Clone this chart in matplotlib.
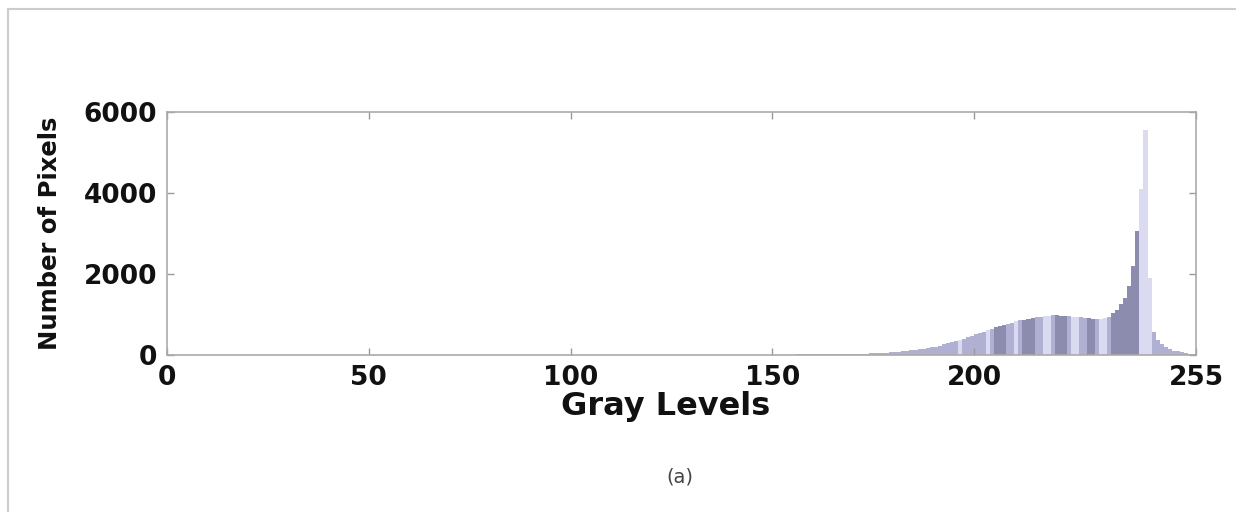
import numpy as np
import matplotlib
matplotlib.use("Agg")
import matplotlib.pyplot as plt
from matplotlib.lines import Line2D

# histogram counts per gray level 0..255
gray_levels = np.arange(256)
counts = [
    # 0-49
    12, 10, 10, 8, 8, 8, 6, 6, 6, 5, 5, 5, 5, 5, 5, 5, 5, 5, 5, 5,
    4, 4, 4, 4, 4, 4, 4, 4, 4, 4, 3, 3, 3, 3, 3, 3, 3, 3, 3, 3,
    3, 3, 3, 3, 3, 3, 3, 3, 3, 3,
    # 50-99
    3, 3, 3, 3, 3, 3, 3, 3, 3, 3, 3, 3, 3, 3, 3, 3, 3, 3, 3, 3,
    3, 3, 3, 3, 3, 3, 3, 3, 3, 3, 3, 3, 3, 3, 3, 3, 3, 3, 3, 3,
    3, 3, 3, 3, 3, 3, 3, 3, 3, 3,
    # 100-149
    3, 3, 3, 3, 3, 3, 3, 3, 3, 3, 4, 4, 4, 4, 4, 4, 4, 4, 4, 4,
    5, 5, 5, 5, 5, 5, 5, 5, 5, 5, 6, 6, 6, 6, 6, 6, 6, 6, 6, 6,
    8, 8, 8, 8, 8, 8, 8, 8, 8, 8,
    # 150-199
    10, 10, 10, 12, 12, 12, 14, 14, 15, 15, 16, 16, 18, 18, 20, 20, 22, 22, 25, 25,
    28, 30, 32, 35, 38, 42, 48, 55, 62, 70, 78, 85, 95, 105, 115, 130, 145, 160, 175, 190,
    205, 230, 260, 285, 315, 345, 375, 405, 435, 470,
    # 200-249
    510, 545, 580, 615, 650, 680, 710, 740, 770, 800, 830, 855, 875, 895, 915, 930, 945, 960,
    975, 990, 985, 975, 965, 955, 950, 940, 930, 920, 905, 890, 880, 890, 910, 945,
    1030, 1110, 1250, 1400, 1700, 2200, 3050, 4100, 5560, 1900, 560, 380, 260, 190, 140, 110,
    # 250-255
    90, 70, 50, 30, 20, 10,
]

dark_bins = [205, 206, 207, 212, 213, 214, 220, 221, 222, 228, 229, 234, 235, 236, 237, 238, 239, 240]
light_bins = [196, 203, 210, 217, 218, 224, 225, 231, 232, 241, 242, 243]


def main():
    plt.rcParams["font.family"] = ["DejaVu Sans"]
    fig = plt.figure(figsize=(12.36, 5.12), dpi=100)
    ax = fig.add_axes([0.1351, 0.3066, 0.8325, 0.4746])

    colors = []
    for g in gray_levels:
        if g in dark_bins:
            colors.append("#8c8cae")
        elif g in light_bins:
            colors.append("#dadaf0")
        else:
            colors.append("#b0b0d2")
    ax.bar(gray_levels, counts, width=1.0, color=colors, edgecolor="none",
           align="edge")

    ax.set_xlim(0, 255)
    ax.set_ylim(0, 6000)
    ax.set_xticks([0, 50, 100, 150, 200, 255])
    ax.set_yticks([0, 2000, 4000, 6000])
    ax.tick_params(direction="in", length=5, width=1, color="#999999",
                   top=True, right=True, labelsize=19, pad=7)
    for lab in ax.get_xticklabels() + ax.get_yticklabels():
        lab.set_fontweight("bold")
        lab.set_color("#111111")
    for s in ax.spines.values():
        s.set_color("#aaaaaa")
        s.set_linewidth(1.2)

    ax.set_xlabel("Gray Levels", fontsize=23, fontweight="bold", color="#111111")
    ax.xaxis.set_label_coords(0.485, -0.15)
    ax.set_ylabel("Number of Pixels", fontsize=17.5, fontweight="bold", color="#111111")
    ax.yaxis.set_label_coords(-0.102, 0.5)

    fig.text(0.550, 0.068, "(a)", fontsize=14, color="#444444",
             ha="center", va="center")

    # frame of the cropped picture (top and left edges)
    fig.add_artist(Line2D([0.0065, 1.0], [0.982, 0.982], color="#cccccc",
                          lw=1.5, transform=fig.transFigure))
    fig.add_artist(Line2D([0.0065, 0.0065], [0.0, 0.982], color="#cccccc",
                          lw=1.5, transform=fig.transFigure))

    fig.savefig("out.png", dpi=100)
    plt.close(fig)


if __name__ == "__main__":
    main()
